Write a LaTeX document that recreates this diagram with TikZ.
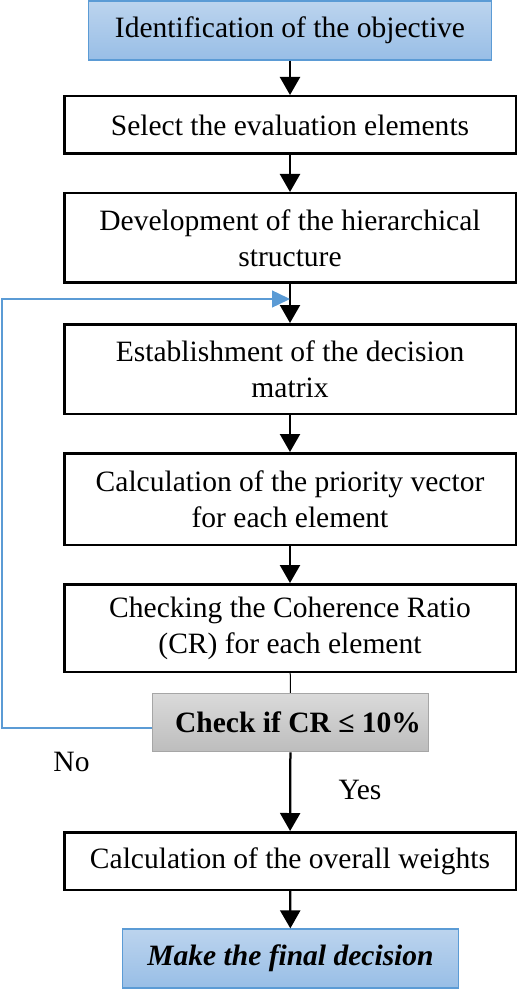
\documentclass[tikz,border=0pt]{standalone}
\usepackage{fontspec}
\setmainfont{Liberation Serif}
\usetikzlibrary{arrows.meta}
\definecolor{bluetop}{HTML}{BCD4EE}
\definecolor{bluebot}{HTML}{98BEE6}
\definecolor{blueline}{HTML}{5B9BD5}
\definecolor{graytop}{HTML}{DADADA}
\definecolor{graybot}{HTML}{BDBDBD}
\definecolor{grayline}{HTML}{A6A6A6}

\begin{document}
\begin{tikzpicture}[
  font=\fontsize{16.8}{20.5}\selectfont,
  stepbox/.style={draw, line width=0.05cm, minimum width=9.03cm, align=center, inner sep=0pt},
  endbox/.style={draw=blueline, line width=0.025cm, top color=bluetop, bottom color=bluebot, minimum height=1.18cm, inner sep=0pt},
  flow/.style={line width=0.045cm, ->, >={Triangle[width=0.4cm,length=0.36cm]}}
]
  \useasboundingbox (0,0) rectangle (10.4,-19.78); %全体
  \node[endbox, minimum width=8.06cm] (obj) at (5.8,-0.61) {Identification of the objective}; %目的
  \node[stepbox, minimum height=1.15cm] (sel) at (5.8,-2.5) {Select the evaluation elements}; %評価要素
  \node[stepbox, minimum height=1.79cm] (dev) at (5.8,-4.76) {Development of the hierarchical\\structure}; %階層構造
  \node[stepbox, minimum height=1.79cm] (mat) at (5.8,-7.38) {Establishment of the decision\\matrix}; %決定行列
  \node[stepbox, minimum height=1.83cm] (vec) at (5.8,-9.98) {Calculation of the priority vector\\for each element}; %優先度ベクトル
  \node[stepbox, minimum height=1.75cm] (coh) at (5.8,-12.56) {Checking the Coherence Ratio\\(CR) for each element}; %整合比
  \node[draw=grayline, line width=0.03cm, top color=graytop, bottom color=graybot, minimum width=5.52cm, minimum height=1.16cm, inner sep=0pt] (chk) at (5.81,-14.45) {\hspace{0.3cm}\textbf{Check if CR ≤ 10\%}}; %判定
  \node[stepbox, minimum height=1.15cm] (wgt) at (5.8,-17.22) {Calculation of the overall weights}; %総合重み
  \node[endbox, minimum width=6.72cm] (dec) at (5.81,-19.17) {\textbf{\textit{Make the final decision}}}; %最終決定
  \draw[flow] (obj)--(sel);
  \draw[flow] (sel)--(dev);
  \draw[flow] (dev)--(mat);
  \draw[flow] (mat)--(vec);
  \draw[flow] (vec)--(coh);
  \draw[line width=0.02cm] (coh)--(chk);
  \draw[flow] (chk)--(wgt);
  \draw[flow] (wgt)--(dec);
  \coordinate (loopS) at ([yshift=-0.11cm]chk.west); %戻り線の始点
  \coordinate (loopT) at (0.04,-5.98); %戻り線の角
  \coordinate (loopE) at (5.8,-5.98); %戻り線の先端
  \draw[blueline, line width=0.028cm, ->, >={Triangle[width=0.34cm,length=0.36cm]}] (loopS)-|(loopT)--(loopE); %No
  \node (no) at (1.43,-15.24) {No};
  \node (yes) at (7.2,-15.8) {Yes};
\end{tikzpicture}
\end{document}
